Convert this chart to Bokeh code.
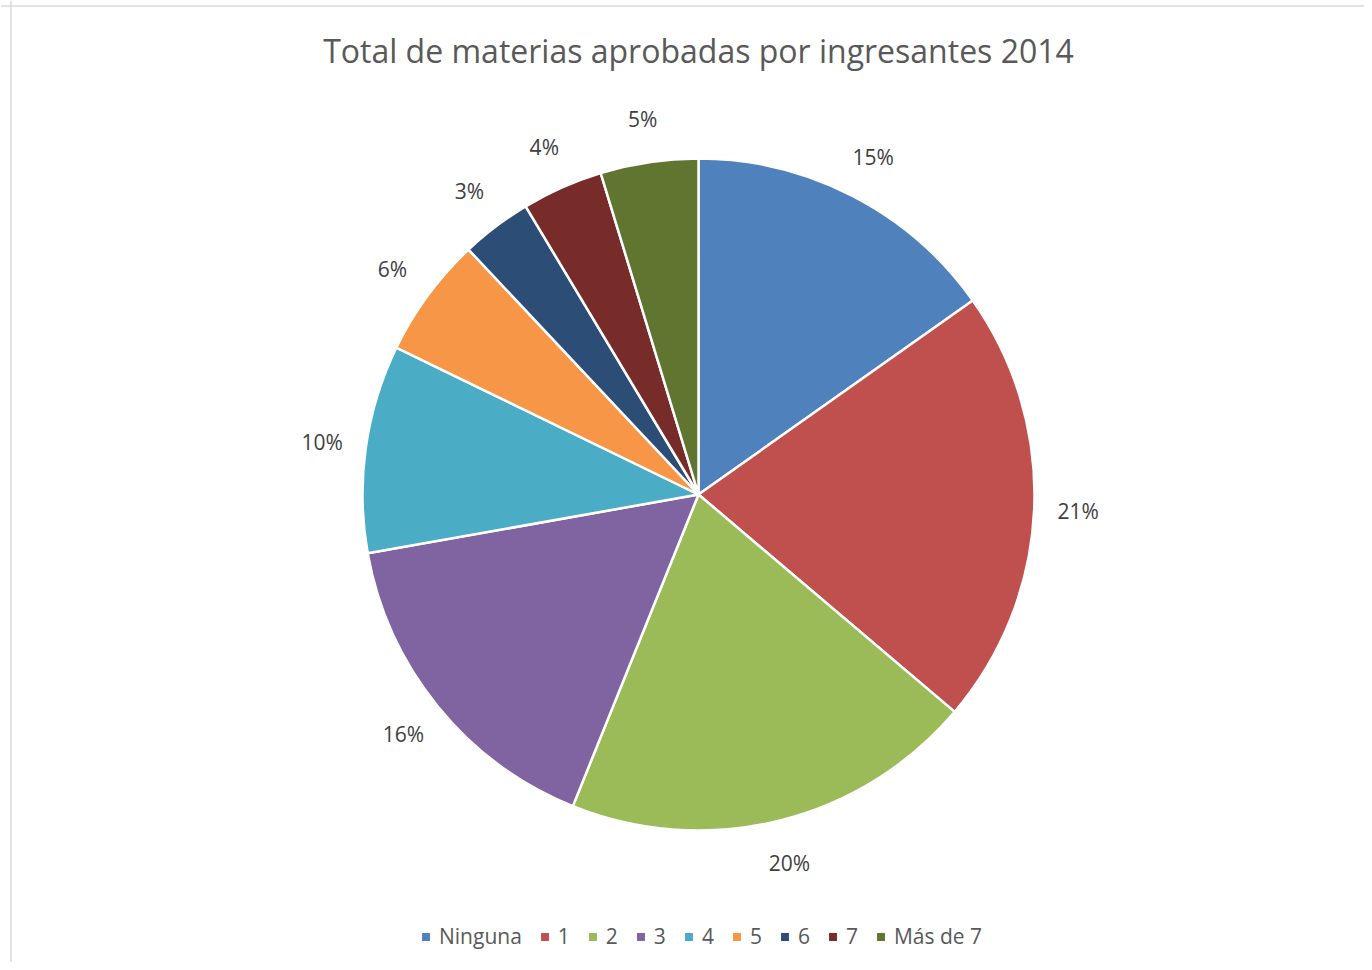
import math
from bokeh.plotting import figure
from bokeh.models import Range1d, Span, Legend, LegendItem, ColumnDataSource
from bokeh.core.properties import value
from bokeh.embed import file_html
from bokeh.resources import INLINE

title_text = "Total de materias aprobadas por ingresantes 2014"
categories = ["Ninguna", "1", "2", "3", "4", "5", "6", "7", "Más de 7"]
percentages = [15.2, 21.0, 19.9, 16.1, 10.0, 5.8, 3.4, 3.9, 4.7]
colors = ["#4F81BD", "#C0504D", "#9BBB59", "#8064A2", "#4BACC6",
          "#F79646", "#2C4D75", "#772C2A", "#5F7530"]

FONT = "Open Sans"
W, H = 1364, 962
CX, CY, R = 698, -494, 336
R_LABEL = 380

total = sum(percentages)
starts, ends, lx, ly, labels = [], [], [], [], []
cum = 0.0
for v in percentages:
    a0 = math.pi / 2 - 2 * math.pi * cum / total
    cum += v
    a1 = math.pi / 2 - 2 * math.pi * cum / total
    starts.append(a0)
    ends.append(a1)
    mid = (a0 + a1) / 2
    lx.append(CX + R_LABEL * math.cos(mid))
    ly.append(CY + R_LABEL * math.sin(mid))
    labels.append(f"{round(v / total * 100)}%")

src = ColumnDataSource(dict(cat=categories, start=starts, end=ends,
                            color=colors, lx=lx, ly=ly, label=labels))

p = figure(width=W, height=H, output_backend="svg", toolbar_location=None,
           x_range=Range1d(0, W), y_range=Range1d(-H, 0),
           min_border=0)
p.axis.visible = False
p.grid.visible = False
p.outline_line_color = None
p.background_fill_color = "white"
p.border_fill_color = "white"

p.add_layout(Span(location=10.5, dimension="height", line_color="#d9d9d9", line_width=1.5))
p.add_layout(Span(location=-5.5, dimension="width", line_color="#d9d9d9", line_width=1.5))

r = p.wedge(x=CX, y=CY, radius=R, start_angle="start", end_angle="end",
            direction="clock", fill_color="color", line_color="white",
            line_width=2.5, source=src)

p.text(x="lx", y="ly", text="label", source=src, text_align="center",
       text_baseline="middle", text_font=value(FONT), text_font_size="21px",
       text_color="#404040")

p.text(x=[CX], y=[-50], text=[title_text], text_align="center",
       text_baseline="middle", text_font=value(FONT), text_font_size="32px",
       text_color="#595959")

items = [LegendItem(label=c, renderers=[r], index=i) for i, c in enumerate(categories)]
legend = Legend(items=items, orientation="horizontal", location=(419, 12),
                label_text_font=FONT, label_text_font_size="21px",
                label_text_color="#595959", glyph_width=13, glyph_height=13,
                label_width=0, label_standoff=7, spacing=16, padding=0, margin=0,
                border_line_alpha=0, background_fill_alpha=0)
p.add_layout(legend, "center")

open("out.html", "w").write(file_html(p, INLINE))
